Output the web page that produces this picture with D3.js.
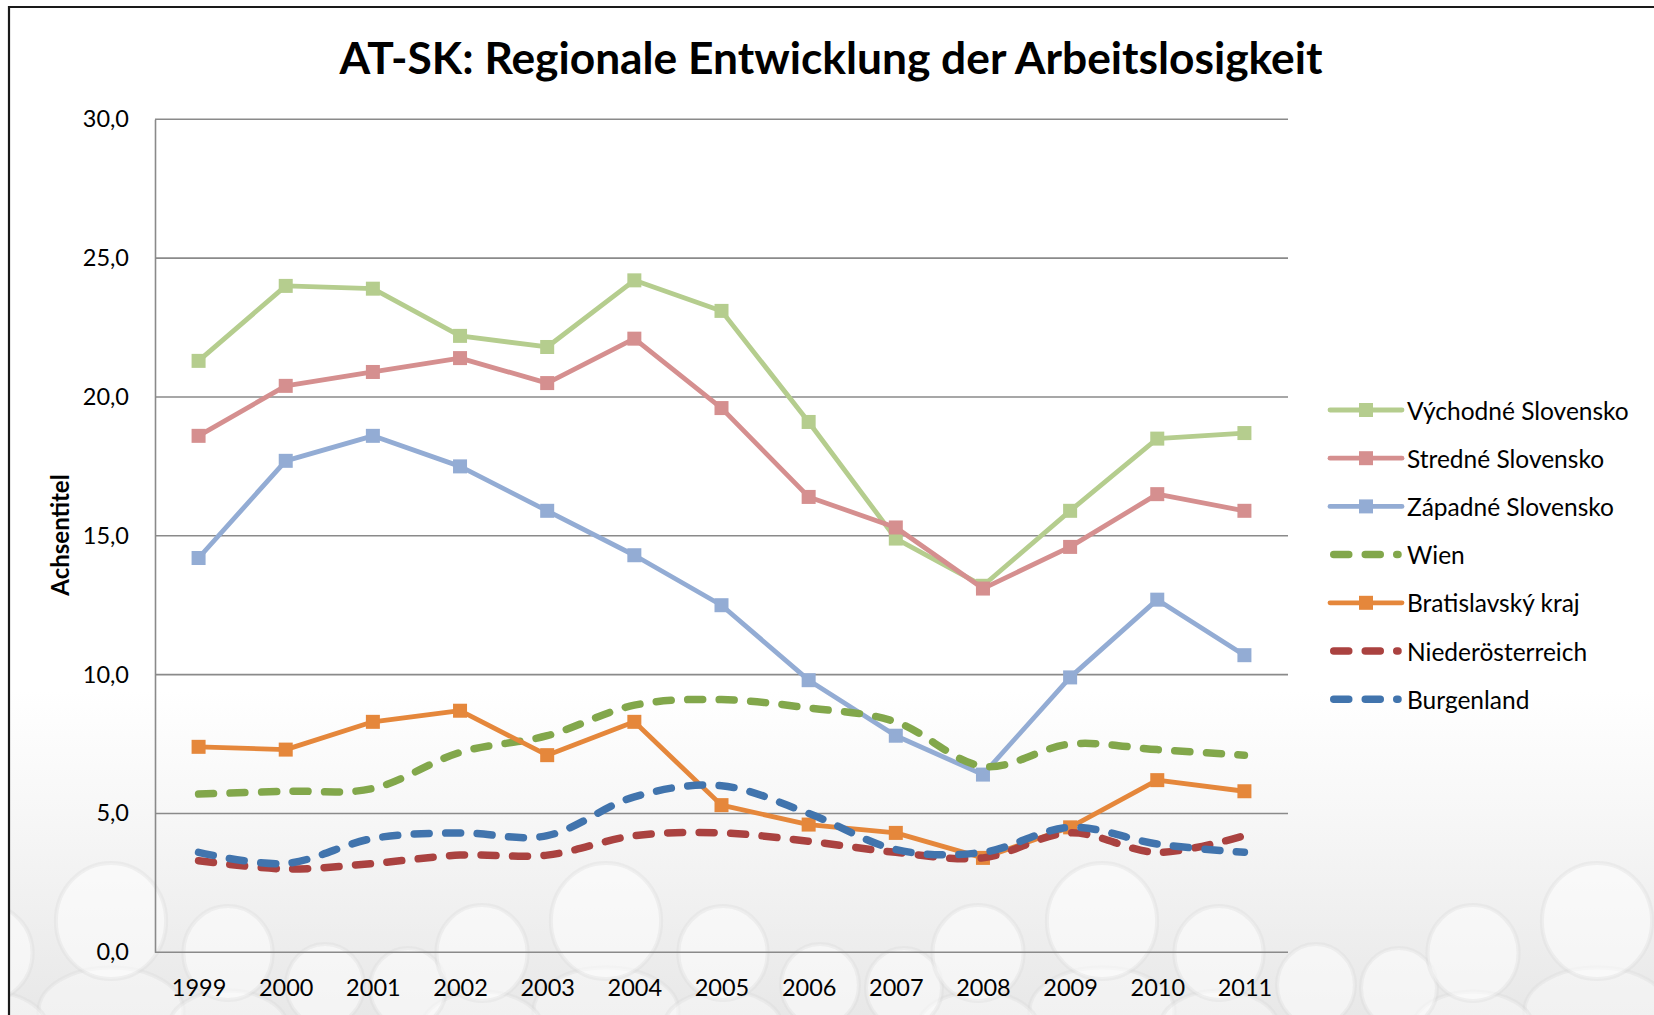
<!DOCTYPE html>
<html>
<head>
<meta charset="utf-8">
<script src="https://cdn.jsdelivr.net/npm/d3@7/dist/d3.min.js"></script>
<style>
  body { margin: 0; background: #fff; }
  svg { display: block; }
  text { font-family: Lato, "Open Sans", sans-serif; fill: #000; }
</style>
</head>
<body>
<div id="chart"></div>
<script>
// Regional unemployment AT-SK, 1999-2011
const years = ["1999", "2000", "2001", "2002", "2003", "2004", "2005", "2006", "2007", "2008", "2009", "2010", "2011"];
const yTicks = [0, 5, 10, 15, 20, 25, 30];

const vychodne = [21.3, 24.0, 23.9, 22.2, 21.8, 24.2, 23.1, 19.1, 14.9, 13.2, 15.9, 18.5, 18.7];
const stredne = [18.6, 20.4, 20.9, 21.4, 20.5, 22.1, 19.6, 16.4, 15.3, 13.1, 14.6, 16.5, 15.9];
const zapadne = [14.2, 17.7, 18.6, 17.5, 15.9, 14.3, 12.5, 9.8, 7.8, 6.4, 9.9, 12.7, 10.7];
const wien = [5.7, 5.8, 5.9, 7.2, 7.8, 8.9, 9.1, 8.8, 8.3, 6.7, 7.5, 7.3, 7.1];
const bratislava = [7.4, 7.3, 8.3, 8.7, 7.1, 8.3, 5.3, 4.6, 4.3, 3.4, 4.5, 6.2, 5.8];
const niederoesterreich = [3.3, 3.0, 3.2, 3.5, 3.5, 4.2, 4.3, 4.0, 3.6, 3.4, 4.3, 3.6, 4.2];
const burgenland = [3.6, 3.2, 4.1, 4.3, 4.2, 5.6, 6.0, 5.0, 3.7, 3.6, 4.5, 3.9, 3.6];

const seriesNames = ["Východné Slovensko", "Stredné Slovensko", "Západné Slovensko", "Wien",
    "Bratislavský kraj", "Niederösterreich", "Burgenland"];
const seriesValues = [vychodne, stredne, zapadne, wien, bratislava, niederoesterreich, burgenland];

// styles per series (not data)
const colors = ["#b5cd8e", "#d58f8f", "#93acd4", "#82a74b", "#e5873b", "#aa4240", "#4174ad"];
const dashed = [false, false, false, true, false, true, true];

const W = 1654, H = 1015;
const plot = { left: 155, right: 1288, top: 119.3, bottom: 952.3 };

const svg = d3.select("#chart").append("svg")
    .attr("width", W)
    .attr("height", H);

// Background: soft gradient with faint figure shapes
const defs = svg.append("defs");
const grad = defs.append("linearGradient")
    .attr("id", "bg")
    .attr("x1", 0).attr("y1", 0).attr("x2", 0).attr("y2", 1);
grad.append("stop").attr("offset", "0%").attr("stop-color", "#ffffff");
grad.append("stop").attr("offset", "68%").attr("stop-color", "#ffffff");
grad.append("stop").attr("offset", "80%").attr("stop-color", "#f7f7f7");
grad.append("stop").attr("offset", "100%").attr("stop-color", "#e8e8e8");

defs.append("clipPath").attr("id", "frameClip")
    .append("rect").attr("x", 8).attr("y", 7).attr("width", W).attr("height", H);

const bgLayer = svg.append("g").attr("clip-path", "url(#frameClip)");
bgLayer.append("rect")
    .attr("x", 0).attr("y", 0).attr("width", W).attr("height", H)
    .attr("fill", "url(#bg)");

// repeating group of heads: big, medium, small on either side
const figureOffsets = [
    { dx: 0, cy: 921, r: 58 },
    { dx: 117, cy: 953, r: 47 },
    { dx: 214, cy: 985, r: 41 },
    { dx: -198, cy: 988, r: 40 },
    { dx: -124, cy: 953, r: 48 }
];
const figures = [];
[111, 606, 1102, 1597].forEach(base => {
    figureOffsets.forEach(o => figures.push({ cx: base + o.dx, cy: o.cy, r: o.r }));
});

bgLayer.selectAll(".body")
    .data(figures)
    .enter()
    .append("ellipse")
    .attr("class", "body")
    .attr("cx", d => d.cx)
    .attr("cy", d => d.cy + d.r * 1.55)
    .attr("rx", d => d.r * 1.25)
    .attr("ry", d => d.r * 0.75)
    .attr("fill", "#ffffff")
    .attr("fill-opacity", 0.4)
    .attr("stroke", "#d6d6d6")
    .attr("stroke-opacity", 0.3)
    .attr("stroke-width", 4);

bgLayer.selectAll(".head")
    .data(figures)
    .enter()
    .append("ellipse")
    .attr("class", "head")
    .attr("cx", d => d.cx)
    .attr("cy", d => d.cy)
    .attr("rx", d => d.r * 0.95)
    .attr("ry", d => d.r)
    .attr("fill", "#ffffff")
    .attr("fill-opacity", 0.5)
    .attr("stroke", "#d6d6d6")
    .attr("stroke-opacity", 0.3)
    .attr("stroke-width", 4);

// Outer frame
svg.append("path")
    .attr("d", `M9,${H} V7 H${W}`)
    .attr("fill", "none")
    .attr("stroke", "#1a1a1a")
    .attr("stroke-width", 2.2);

// Scales
const x = d3.scalePoint()
    .domain(years)
    .range([plot.left, plot.right])
    .padding(0.5);

const y = d3.scaleLinear()
    .domain([0, 30])
    .range([plot.bottom, plot.top]);

// Gridlines
svg.append("g")
    .selectAll("line")
    .data(yTicks)
    .enter()
    .append("line")
    .attr("x1", plot.left)
    .attr("x2", plot.right)
    .attr("y1", d => y(d))
    .attr("y2", d => y(d))
    .attr("stroke", "#8a8a8a")
    .attr("stroke-width", 1.6);

// Y axis
const yAxis = svg.append("g")
    .attr("transform", `translate(${plot.left},0)`)
    .call(d3.axisLeft(y).tickValues(yTicks).tickSize(0).tickPadding(26)
        .tickFormat(d => d3.format(".1f")(d).replace(".", ",")));
yAxis.select(".domain").attr("stroke", "#8a8a8a").attr("stroke-width", 1.6);
yAxis.selectAll("text")
    .attr("font-size", 23.5)
    .attr("font-family", "Lato, sans-serif")
    .attr("fill", "#000");

// X axis
const xAxis = svg.append("g")
    .attr("transform", `translate(0,${plot.bottom})`)
    .call(d3.axisBottom(x).tickSize(0).tickPadding(27));
xAxis.select(".domain").remove();
xAxis.selectAll("text")
    .attr("font-size", 23.5)
    .attr("font-family", "Lato, sans-serif")
    .attr("fill", "#000");

// Axis title
svg.append("text")
    .attr("transform", "translate(59,535) rotate(-90)")
    .attr("text-anchor", "middle")
    .attr("dominant-baseline", "central")
    .attr("font-size", 24)
    .attr("font-weight", 700)
    .text("Achsentitel");

// Title
svg.append("text")
    .attr("x", 831)
    .attr("y", 74)
    .attr("text-anchor", "middle")
    .attr("font-size", 44.3)
    .attr("font-weight", 700)
    .text("AT-SK: Regionale Entwicklung der Arbeitslosigkeit");

// Series
const straight = d3.line()
    .x((d, i) => x(years[i]))
    .y(d => y(d));
const smooth = d3.line()
    .x((d, i) => x(years[i]))
    .y(d => y(d))
    .curve(d3.curveCatmullRom.alpha(0));

seriesValues.forEach((vals, s) => {
    const g = svg.append("g").attr("class", "series");
    g.append("path")
        .datum(vals)
        .attr("d", dashed[s] ? smooth : straight)
        .attr("fill", "none")
        .attr("stroke", colors[s])
        .attr("stroke-width", dashed[s] ? 7.5 : 4.8)
        .attr("stroke-linecap", "round")
        .attr("stroke-linejoin", "round")
        .attr("stroke-dasharray", dashed[s] ? "15,16.5" : null);
    if (!dashed[s]) {
        g.selectAll("rect")
            .data(vals)
            .enter()
            .append("rect")
            .attr("x", (d, i) => x(years[i]) - 7)
            .attr("y", d => y(d) - 7)
            .attr("width", 14)
            .attr("height", 14)
            .attr("fill", colors[s]);
    }
});

// Legend
const legend = svg.append("g").attr("transform", "translate(1330,410)");
seriesNames.forEach((name, s) => {
    const item = legend.append("g").attr("transform", `translate(0,${s * 48.2})`);
    item.append("line")
        .attr("x1", dashed[s] ? 3.75 : 0)
        .attr("x2", dashed[s] ? 68 : 72)
        .attr("y1", 0).attr("y2", 0)
        .attr("stroke", colors[s])
        .attr("stroke-width", dashed[s] ? 7.5 : 4.8)
        .attr("stroke-linecap", "round")
        .attr("stroke-dasharray", dashed[s] ? "15,16.5" : null);
    if (!dashed[s]) {
        item.append("rect")
            .attr("x", 36 - 7).attr("y", -7)
            .attr("width", 14).attr("height", 14)
            .attr("fill", colors[s]);
    }
    item.append("text")
        .attr("x", 77)
        .attr("y", 0)
        .attr("dominant-baseline", "central")
        .attr("font-size", 24.5)
        .text(name);
});
</script>
</body>
</html>
